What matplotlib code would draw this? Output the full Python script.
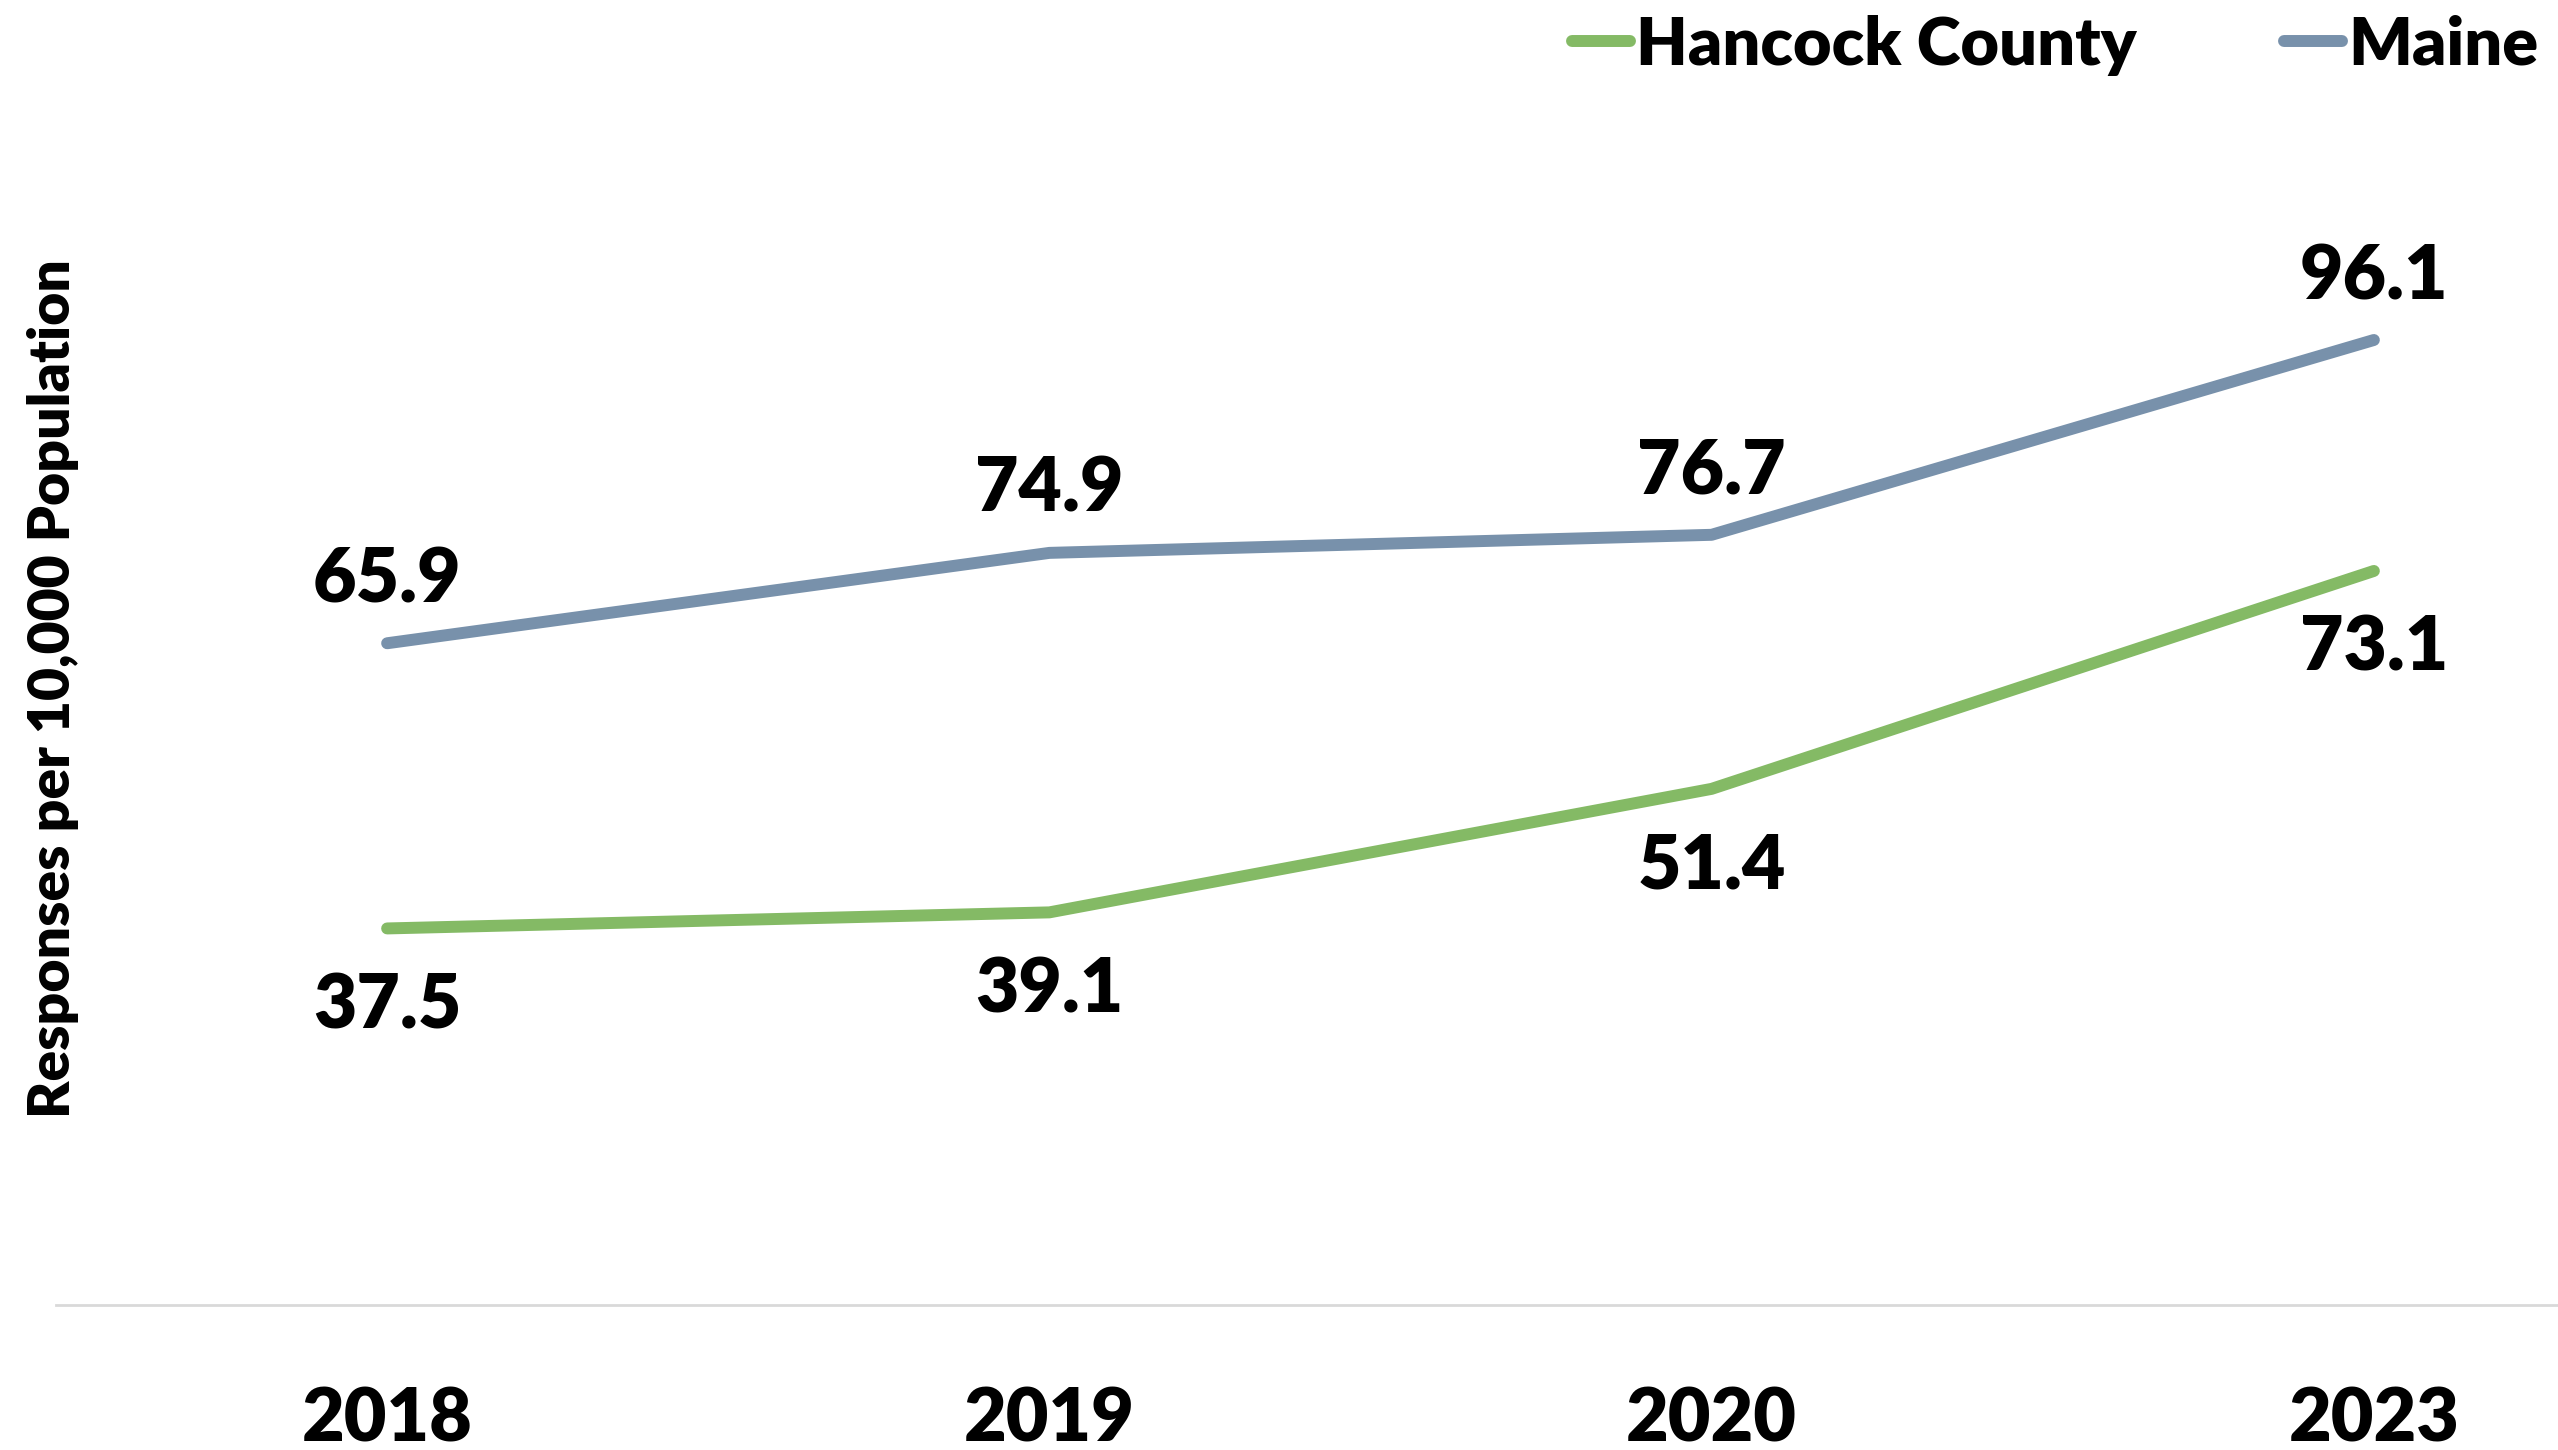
import matplotlib
matplotlib.use('Agg')
from matplotlib import pyplot as plt

plt.rcParams['font.family'] = ['Lato', 'DejaVu Sans']
plt.rcParams['font.weight'] = 'heavy'

years = ['2018', '2019', '2020', '2023']
hancock = [37.5, 39.1, 51.4, 73.1]
maine = [65.9, 74.9, 76.7, 96.1]

green = '#84BA65'
blue = '#7891AB'
wt = 'heavy'

fig = plt.figure(figsize=(25.58, 14.5), dpi=100)
# axes runs a little past the right edge, like the original export
ax = fig.add_axes([56 / 2558, 0.1, 2649 / 2558, 1205 / 1450])

x = range(len(years))
ax.plot(x, hancock, color=green, linewidth=8.6, solid_capstyle='round', label='Hancock County')
ax.plot(x, maine, color=blue, linewidth=8.6, solid_capstyle='round', label='Maine')

# value labels: Maine above the line, Hancock below
for i, v in enumerate(maine):
    ax.annotate(f'{v:.1f}', (i, v), xytext=(0, 29.5), textcoords='offset points',
                ha='center', va='baseline', fontsize=54, fontweight=wt)
for i, v in enumerate(hancock):
    ax.annotate(f'{v:.1f}', (i, v), xytext=(0, -72), textcoords='offset points',
                ha='center', va='baseline', fontsize=54, fontweight=wt)

ax.set_xlim(-0.5, 3.5)
ax.set_ylim(0, 120)
ax.set_xticks(list(x))
ax.set_xticklabels(years, fontsize=53, fontweight=wt)
ax.tick_params(axis='x', length=0, pad=98.6)
for lab in ax.get_xticklabels():
    lab.set_va('baseline')
ax.set_yticks([])

for s in ['top', 'right', 'left']:
    ax.spines[s].set_visible(False)
ax.spines['bottom'].set_color('#D9D9D9')
ax.spines['bottom'].set_linewidth(2)

ax.set_ylabel('Responses per 10,000 Population', fontsize=41, fontweight=wt, va='center')
ax.yaxis.set_label_coords((53 - 56) / 2649, (1305 - 689) / 1205)

leg = fig.legend(loc='upper right', bbox_to_anchor=(2545 / 2558, 1 - 8 / 1450), ncol=2, frameon=False,
                 fontsize=48, handlelength=0.87, handletextpad=0.1, columnspacing=2.2,
                 borderaxespad=0, borderpad=0.1)
for t in leg.get_texts():
    t.set_fontweight(wt)

fig.savefig('out.png', dpi=100)
